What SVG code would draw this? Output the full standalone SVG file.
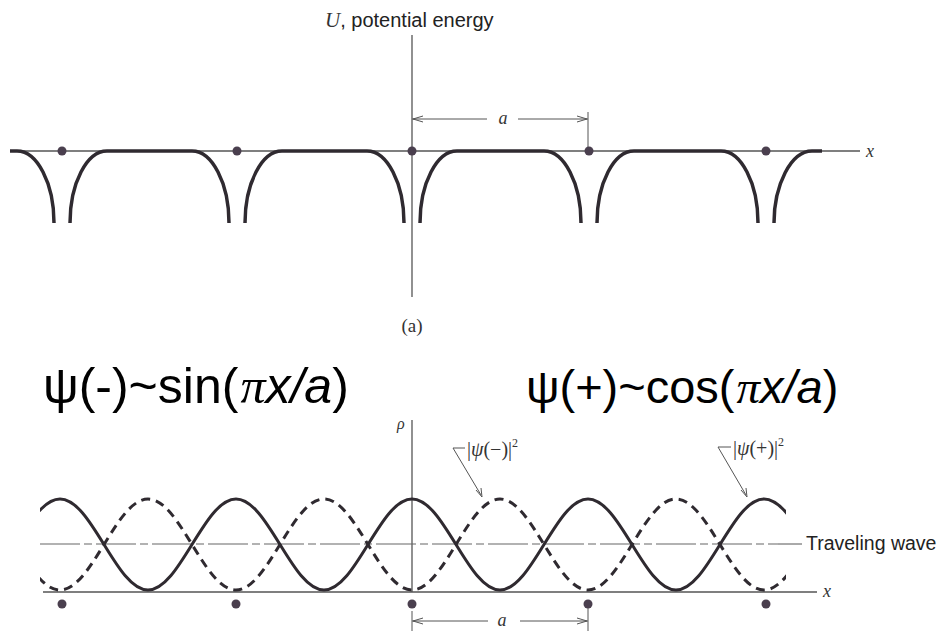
<svg xmlns="http://www.w3.org/2000/svg" width="941" height="631" viewBox="0 0 941 631">
<defs>
<style>
.axis{stroke:#555;stroke-width:1.3;fill:none}
.pot{stroke:#2f2a30;stroke-width:3.5;fill:none;stroke-linecap:butt}
.wave{stroke:#2f2a30;stroke-width:3;fill:none}
.dash{stroke:#2f2a30;stroke-width:3;fill:none;stroke-dasharray:9 6}
.tw{stroke:#666;stroke-width:1.2;fill:none;stroke-dasharray:40 4 8 4}
.dot{fill:#4a3f4e}
.thin{stroke:#555;stroke-width:1;fill:none}
.sans{font-family:"Liberation Sans",Arial,sans-serif;fill:#222}
.serif{font-family:"Liberation Serif","Times New Roman",serif;fill:#333}
.it{font-style:italic}
.big{font-family:"Liberation Sans",Arial,sans-serif;fill:#000}
</style>
<clipPath id="wclip"><rect x="40" y="480" width="746" height="120"/></clipPath>
</defs>

<g id="top-axes">
<line class="axis" x1="412" y1="35" x2="412" y2="297"/>
<line class="axis" x1="10" y1="151" x2="860" y2="151"/>
<text class="serif it" x="866" y="157" font-size="18">x</text>
<text x="325" y="27" font-size="20"><tspan class="serif it" font-size="21">U</tspan><tspan class="sans">, potential energy</tspan></text>
</g>

<g id="top-dimension">
<line class="thin" x1="588" y1="112" x2="588" y2="151"/>
<line class="thin" x1="412" y1="119" x2="487" y2="119"/>
<line class="thin" x1="518" y1="119" x2="588" y2="119"/>
<polyline class="thin" points="423,116 413,119 423,122"/>
<polyline class="thin" points="577,116 587,119 577,122"/>
<text class="serif it" x="503" y="124" font-size="18" text-anchor="middle">a</text>
</g>

<g id="potential">
<path class="pot" d="M10 151 L17 151 C37 151 54 183 54 223"/>
<path class="pot" d="M70 223 C70 183 87 151 107 151 L192 151 C212 151 229 183 229 223"/>
<path class="pot" d="M245 223 C245 183 262 151 282 151 L367 151 C387 151 404 183 404 223"/>
<path class="pot" d="M420 223 C420 183 437 151 457 151 L544 151 C564 151 581 183 581 223"/>
<path class="pot" d="M597 223 C597 183 614 151 634 151 L721 151 C741 151 758 183 758 223"/>
<path class="pot" d="M774 223 C774 185 791 151 812 151 L822 151"/>
</g>

<g id="top-dots">
<circle class="dot" cx="62" cy="151" r="4.5"/>
<circle class="dot" cx="237" cy="151" r="4.5"/>
<circle class="dot" cx="412" cy="151" r="4.5"/>
<circle class="dot" cx="589" cy="151" r="4.5"/>
<circle class="dot" cx="766" cy="151" r="4.5"/>
</g>

<text id="label-a" class="serif" x="412" y="332" font-size="19" text-anchor="middle">(a)</text>

<g id="formulas">
<text class="big" x="43" y="403" font-size="50">ψ(-)~sin(<tspan font-style="italic" font-family="'Liberation Serif',serif" dx="2">π</tspan><tspan font-style="italic">x/a</tspan>)</text>
<text class="big" x="526" y="403" font-size="47">ψ(+)~cos(<tspan font-style="italic" font-family="'Liberation Serif',serif" dx="2">π</tspan><tspan font-style="italic">x/a</tspan>)</text>
</g>

<g id="bottom-axes">
<line class="axis" x1="412" y1="420" x2="412" y2="592"/>
<line class="axis" x1="43" y1="592" x2="817" y2="592"/>
<text class="serif it" x="823" y="597" font-size="18">x</text>
<text class="serif it" x="397" y="429" font-size="16">ρ</text>
<line class="tw" x1="40" y1="544" x2="778" y2="544"/>
<line class="thin" x1="778" y1="544" x2="802" y2="544"/>
<text class="sans" x="806" y="550" font-size="19.5">Traveling wave</text>
</g>

<g id="waves" clip-path="url(#wclip)">
<path class="wave" d="M-28 590 C4 590 28 499 60 499 S116 590 148 590 S204 499 236 499 S292 590 324 590 S380 499 412 499 S468 590 500 590 S556 499 588 499 S644 590 676 590 S732 499 764 499 S820 590 852 590"/>
<path class="dash" d="M-28 499 C4 499 28 590 60 590 S116 499 148 499 S204 590 236 590 S292 499 324 499 S380 590 412 590 S468 499 500 499 S556 590 588 590 S644 499 676 499 S732 590 764 590 S820 499 852 499"/>
</g>

<g id="bottom-dots">
<circle class="dot" cx="62" cy="604" r="4.5"/>
<circle class="dot" cx="236" cy="604" r="4.5"/>
<circle class="dot" cx="412" cy="604" r="4.5"/>
<circle class="dot" cx="588" cy="604" r="4.5"/>
<circle class="dot" cx="766" cy="604" r="4.5"/>
</g>

<g id="bottom-dimension">
<line class="thin" x1="412" y1="611" x2="412" y2="631"/>
<line class="thin" x1="588" y1="608" x2="588" y2="631"/>
<line class="thin" x1="412" y1="621" x2="488" y2="621"/>
<line class="thin" x1="520" y1="621" x2="588" y2="621"/>
<polyline class="thin" points="423,618 413,621 423,624"/>
<polyline class="thin" points="577,618 587,621 577,624"/>
<text class="serif it" x="502" y="626" font-size="18" text-anchor="middle">a</text>
</g>

<g id="label-psi-minus">
<polyline class="thin" points="465,448 453,448 481,495"/>
<polyline class="thin" points="476,490 482,497 481,488"/>
<text class="serif" x="467" y="456" font-size="20">|<tspan font-style="italic">ψ</tspan>(−)|<tspan font-size="12" dy="-9">2</tspan></text>
</g>

<g id="label-psi-plus">
<polyline class="thin" points="731,447 718,447 746,495"/>
<polyline class="thin" points="741,490 747,497 746,488"/>
<text class="serif" x="733" y="455" font-size="20">|<tspan font-style="italic">ψ</tspan>(+)|<tspan font-size="12" dy="-9">2</tspan></text>
</g>
</svg>
